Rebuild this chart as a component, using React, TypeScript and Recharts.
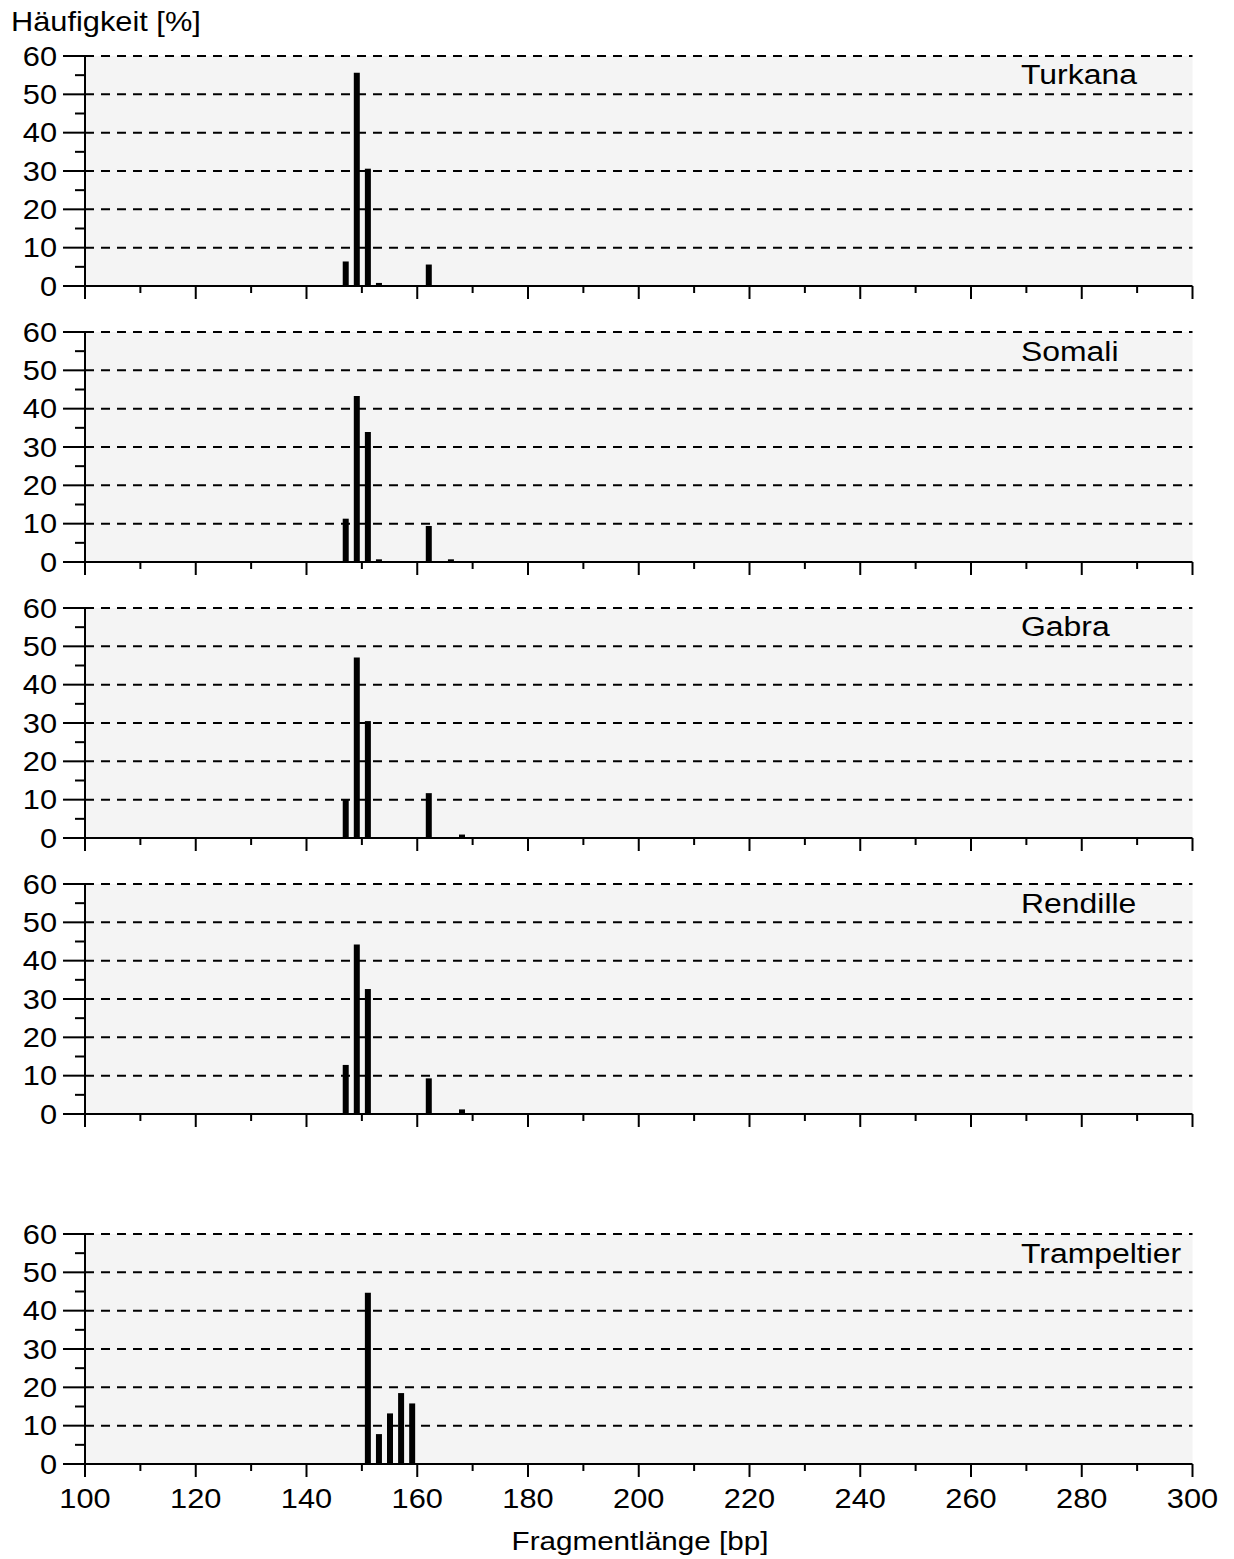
import React from "react";
import { Bar, BarChart, CartesianGrid, XAxis, YAxis } from "recharts";

// fragment length (bp) and frequency (%) for each population
const turkanaLen = [147, 149, 151, 153, 162];
const turkanaPct = [6.4, 55.6, 30.6, 0.8, 5.6];
const somaliLen = [147, 149, 151, 153, 162, 166];
const somaliPct = [11.3, 43.3, 33.9, 0.7, 9.4, 0.7];
const gabraLen = [147, 149, 151, 162, 168];
const gabraPct = [10.0, 47.1, 30.5, 11.7, 0.9];
const rendilleLen = [147, 149, 151, 162, 168];
const rendillePct = [12.8, 44.2, 32.6, 9.3, 1.2];
const trampLen = [151, 153, 155, 157, 159];
const trampPct = [44.7, 7.8, 13.2, 18.5, 15.8];

const xTicks = [100, 110, 120, 130, 140, 150, 160, 170, 180, 190, 200, 210, 220, 230, 240, 250, 260, 270, 280, 290, 300];
const yTicks = [0, 5, 10, 15, 20, 25, 30, 35, 40, 45, 50, 55, 60];
const gridValues = [10, 20, 30, 40, 50, 60];

const FONT = "'Liberation Sans', Arial, Helvetica, sans-serif";
const SX = 1.14;
const PLOT_LEFT = 85;
const PLOT_RIGHT = 1192.5;
const PLOT_H = 230;
const TOP_PAD = 20;

function Txt({ x, y, anchor = "start", size = 27, dy = 0, children }: any) {
  return (
    <text
      transform={`translate(${x},${y}) scale(${SX},1)`}
      textAnchor={anchor}
      dy={dy}
      fontSize={size}
      fontFamily={FONT}
      fill="#000"
    >
      {children}
    </text>
  );
}

function XTick({ x, y, payload, showLabels }: any) {
  const major = payload.value % 20 === 0;
  return (
    <g>
      <line x1={x} x2={x} y1={y} y2={y + (major ? 13 : 7)} stroke="#000" strokeWidth={2} />
      {showLabels && major ? <Txt x={x} y={y + 44} anchor="middle">{payload.value}</Txt> : null}
    </g>
  );
}

function YTick({ x, y, payload }: any) {
  const major = payload.value % 10 === 0;
  return (
    <g>
      <line x1={x - (major ? 22 : 10)} x2={x} y1={y} y2={y} stroke="#000" strokeWidth={2} />
      {major ? <Txt x={x - 28} y={y} anchor="end" dy="0.36em">{payload.value}</Txt> : null}
    </g>
  );
}

const panels = [
  { name: "Turkana", top: 55.7, len: turkanaLen, pct: turkanaPct },
  { name: "Somali", top: 332, len: somaliLen, pct: somaliPct },
  { name: "Gabra", top: 607.7, len: gabraLen, pct: gabraPct },
  { name: "Rendille", top: 884, len: rendilleLen, pct: rendillePct },
  { name: "Trampeltier", top: 1234, len: trampLen, pct: trampPct, last: true },
];

function Panel({ top, len, pct, last }: any) {
  const data = len.map((l: number, i: number) => ({ len: l, pct: pct[i] }));
  const xh = last ? 60 : 20;
  const yw = 80;
  return (
    <div style={{ position: "absolute", left: 0, top: top - TOP_PAD }}>
      <BarChart
        width={1234}
        height={TOP_PAD + PLOT_H + xh}
        data={data}
        margin={{ top: TOP_PAD, right: 1234 - PLOT_RIGHT, bottom: 0, left: PLOT_LEFT - yw }}
        barSize={6}
      >
        <CartesianGrid
          vertical={false}
          horizontalValues={gridValues}
          fill="#f4f4f4"
          stroke="#000"
          strokeWidth={2}
          strokeDasharray="9 7"
        />
        <XAxis
          dataKey="len"
          type="number"
          domain={[100, 300]}
          ticks={xTicks}
          interval={0}
          height={xh}
          tickSize={0}
          tickMargin={0}
          tickLine={false}
          axisLine={{ stroke: "#000", strokeWidth: 2 }}
          tick={<XTick showLabels={!!last} />}
        />
        <YAxis
          type="number"
          domain={[0, 60]}
          ticks={yTicks}
          interval={0}
          width={yw}
          tickSize={0}
          tickMargin={0}
          tickLine={false}
          axisLine={{ stroke: "#000", strokeWidth: 2 }}
          tick={<YTick />}
        />
        <Bar dataKey="pct" fill="#000" isAnimationActive={false} />
      </BarChart>
    </div>
  );
}

export default function App() {
  return (
    <div style={{ position: "absolute", left: 0, top: 0, width: 1234, height: 1559, background: "#fff" }}>
      {panels.map((p) => (
        <Panel key={p.name} {...p} />
      ))}
      <svg width={1234} height={1559} style={{ position: "absolute", left: 0, top: 0, pointerEvents: "none" }}>
        <Txt x={11} y={30.5}>Häufigkeit [%]</Txt>
        {panels.map((p) => (
          <Txt key={p.name} x={1021} y={p.top + 28.5} size={28}>{p.name}</Txt>
        ))}
        <Txt x={640} y={1550} anchor="middle" size={26}>Fragmentlänge [bp]</Txt>
      </svg>
    </div>
  );
}
